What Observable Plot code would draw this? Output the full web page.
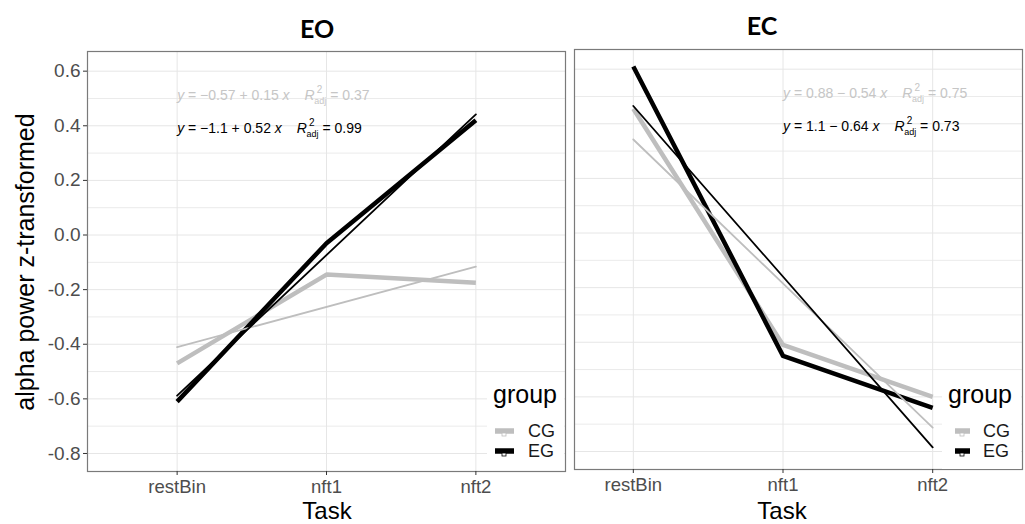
<!DOCTYPE html>
<html><head><meta charset="utf-8">
<script src="https://cdn.jsdelivr.net/npm/d3@7"></script>
<script src="https://cdn.jsdelivr.net/npm/@observablehq/plot@0.6"></script>
<style>
body{margin:0;background:#fff;}
#wrap{position:relative;width:1025px;height:524px;overflow:hidden;background:#fff;}
#wrap > svg{position:absolute;top:0;}
</style></head>
<body><div id="wrap"></div>
<script>
// ---- data ----
const tasks = ["restBin", "nft1", "nft2"];
const groups = ["CG", "EG"];
const conditions = ["EO", "EC"];
const eoCG = [-0.47, -0.145, -0.175];
const eoEG = [-0.61, -0.03, 0.42];
const ecCG = [0.455, -0.41, -0.60];
const ecEG = [0.61, -0.45, -0.64];
const eoEquations = ["y = −0.57 + 0.15 x", "y = −1.1 + 0.52 x"];
const eoR2 = ["0.37", "0.99"];
const ecEquations = ["y = 0.88 − 0.54 x", "y = 1.1 − 0.64 x"];
const ecR2 = ["0.75", "0.73"];
const eqTask = {EO: "restBin", EC: "nft1"};
const yTicks = [-0.8, -0.6, -0.4, -0.2, 0, 0.2, 0.4, 0.6];
const yMinor = [-0.7, -0.5, -0.3, -0.1, 0.1, 0.3, 0.5];
const yDomain = [-0.866, 0.672];
const groupColors = ["#bebebe", "#000000"];

const wrap = document.getElementById("wrap");

function rowsFor(cg, eg) {
  return groups.flatMap(g => (g === "CG" ? cg : eg).map((v, i) => ({task: i + 1, group: g, value: v})));
}

function panel(cond, cg, eg, eqs, r2s, o) {
  const rows = rowsFor(cg, eg);
  const eqData = eqs.map((e, j) => ({task: eqTask[cond], eq: e, r2: r2s[j]}));
  const marks = [
    Plot.gridY(yMinor, {stroke: "#ebebeb", strokeOpacity: 1, strokeWidth: 1}),
    Plot.gridY(yTicks, {stroke: "#e6e6e6", strokeOpacity: 1, strokeWidth: 1}),
    Plot.gridX([1, 2, 3], {stroke: "#e6e6e6", strokeOpacity: 1, strokeWidth: 1}),
    Plot.line(rows, {x: "task", y: "value", z: "group", stroke: "group", strokeWidth: 4.5, strokeLinecap: "butt"}),
    Plot.linearRegressionY(rows, {x: "task", y: "value", stroke: "group", ci: 0, strokeWidth: 1.8}),
    Plot.text([eqData[0]], {x: d => tasks.indexOf(d.task) + 1, frameAnchor: "top", dy: 39, textAnchor: "start",
      text: d => d.eq + "|" + d.r2, fill: "#c6c6c6", fontSize: 14}),
    Plot.text([eqData[1]], {x: d => tasks.indexOf(d.task) + 1, frameAnchor: "top", dy: 72, textAnchor: "start",
      text: d => d.eq + "|" + d.r2, fill: "#000", fontSize: 14}),
    Plot.frame({stroke: "#7a7a7a", strokeWidth: 1.2}),
    Plot.axisX([1, 2, 3], {tickFormat: i => tasks[i - 1], tickSize: 4, tickPadding: 4, fontSize: 18.5,
      fill: "#4d4d4d", stroke: "#333", label: null})
  ];
  if (o.yAxis) marks.push(Plot.axisY(yTicks, {tickFormat: d => d.toFixed(1), tickSize: 4, tickPadding: 3,
      fontSize: 19, fill: "#4d4d4d", stroke: "#333", label: null}));
  const svg = Plot.plot({
    width: o.width, height: 524,
    marginTop: o.top, marginBottom: o.bottom, marginLeft: o.left, marginRight: o.right,
    style: {fontFamily: "'Liberation Sans', Arial, sans-serif", background: "transparent", overflow: "visible"},
    x: {domain: [0.4, 3.6], insetLeft: o.insetLeft || 0, axis: null},
    y: {domain: yDomain, axis: null},
    color: {domain: groups, range: groupColors},
    marks
  });
  d3.select(svg).selectAll("text").filter(function () { return this.textContent.includes("|"); }).each(function () {
    const [eq, r2] = this.textContent.split("|");
    const t = d3.select(this);
    t.text(null);
    t.append("tspan").attr("font-style", "italic").text("y");
    t.append("tspan").text(eq.slice(1, -1));
    t.append("tspan").attr("font-style", "italic").text("x");
    t.append("tspan").attr("dx", 15).attr("font-style", "italic").text("R");
    t.append("tspan").attr("dx", 2).attr("dy", -7).attr("font-size", 10).text("2");
    t.append("tspan").attr("dx", -8).attr("dy", 11).attr("font-size", 9).text("adj");
    t.append("tspan").attr("dy", -4).text(" = " + r2);
  });
  svg.style.left = o.x + "px";
  wrap.appendChild(svg);
}

panel("EO", eoCG, eoEG, eoEquations, eoR2, {x: 0, width: 570, top: 51, bottom: 53, left: 87, right: 5, yAxis: true});
panel("EC", ecCG, ecEG, ecEquations, ecR2, {x: 520, width: 505, top: 49, bottom: 55, left: 54, right: 3, insetLeft: -31});

// ---- overlay: titles, axis titles, legends ----
const ov = d3.select(wrap).append("svg").attr("width", 1025).attr("height", 524)
  .style("left", "0px").style("pointer-events", "none")
  .style("font-family", "'Liberation Sans', Arial, sans-serif");

const titleX = [317, 762], titleY = [38, 35];
conditions.forEach((c, i) => {
  ov.append("text").attr("x", titleX[i]).attr("y", titleY[i]).attr("text-anchor", "middle")
    .style("font-family", "Lato, 'Open Sans', sans-serif").attr("font-weight", "bold").attr("font-size", 25)
    .attr("fill", "#000").text(c);
});
ov.append("text").attr("transform", "translate(34,262) rotate(-90)").attr("text-anchor", "middle")
  .attr("font-size", 25).attr("fill", "#000").text("alpha power z-transformed");
[327, 782].forEach(x => ov.append("text").attr("x", x).attr("y", 519).attr("text-anchor", "middle")
  .attr("font-size", 24).attr("fill", "#000").text("Task"));

const legends = [
  {bx: 487, bw: 77, tx: 493, kx: 495, kw: 19, lx: 528},
  {bx: 942, bw: 79, tx: 948, kx: 955, kw: 15, lx: 983}
];
legends.forEach(L => {
  ov.append("rect").attr("x", L.bx).attr("y", 374).attr("width", L.bw).attr("height", 95).attr("fill", "#fff");
  ov.append("text").attr("x", L.tx).attr("y", 403).attr("font-size", 25).attr("fill", "#000").text("group");
  groups.forEach((g, j) => {
    const ky = 431 + j * 20;
    ov.append("line").attr("x1", L.kx).attr("x2", L.kx + L.kw).attr("y1", ky).attr("y2", ky)
      .attr("stroke", groupColors[j]).attr("stroke-width", 5.5);
    ov.append("rect").attr("x", L.kx + L.kw / 2 - 2.5).attr("y", ky + 2).attr("width", 4).attr("height", 3)
      .attr("fill", "#fff").attr("stroke", groupColors[j]).attr("stroke-width", 0.8);
    ov.append("text").attr("x", L.lx).attr("y", ky + 6).attr("font-size", 18).attr("fill", "#1a1a1a").text(g);
  });
});
</script></body></html>
